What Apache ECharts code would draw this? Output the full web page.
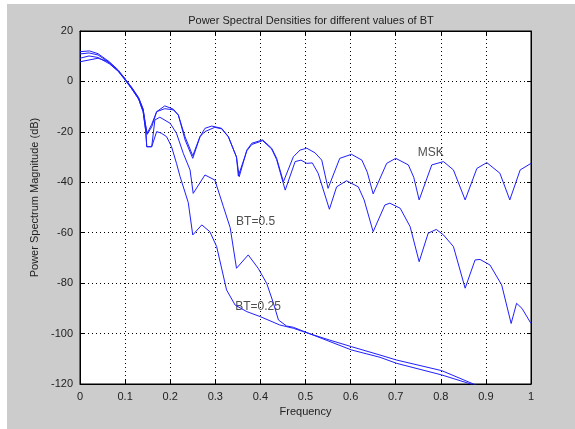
<!DOCTYPE html>
<html>
<head>
<meta charset="utf-8">
<script src="https://cdn.jsdelivr.net/npm/echarts@6/dist/echarts.min.js"></script>
<style>
html,body{margin:0;padding:0;background:#fff;}
#bg{position:absolute;left:7px;top:4px;width:568px;height:425px;background:#cccccc;}
#chart{position:absolute;left:0;top:0;width:575px;height:429px;}
</style>
</head>
<body>
<div id="bg"></div>
<div id="chart"></div>
<script>
// ---- data ----
const xTicks = [0,0.1,0.2,0.3,0.4,0.5,0.6,0.7,0.8,0.9,1];
const yTicks = [-120,-100,-80,-60,-40,-20,0,20];

const mskFreq = [0,0.02,0.04,0.06,0.07,0.085,0.1,0.115,0.13,0.14,0.145,0.149,0.159,0.17,0.188,0.207,0.218,0.233,0.25,0.266,0.277,0.299,0.314,0.329,0.347,0.353,0.37,0.381,0.405,0.425,0.436,0.451,0.473,0.488,0.503,0.521,0.536,0.55,0.576,0.602,0.625,0.637,0.65,0.68,0.70,0.728,0.74,0.752,0.78,0.806,0.828,0.854,0.88,0.902,0.931,0.953,0.976,1.0];
const mskPSD  = [7.8,8.5,9.2,8,6.5,4,1,-2.5,-6.5,-11,-17,-20.6,-17,-12,-10.8,-11.3,-13.3,-22,-29.5,-21.9,-19.9,-18.2,-18.8,-22,-30,-37.8,-27.2,-24.5,-23.2,-26.5,-30.5,-39.8,-29.9,-27.2,-26.5,-28.3,-31.2,-42.4,-30.5,-28.9,-31.2,-36,-44.6,-32.5,-30.5,-33.1,-38,-47,-33.1,-31.8,-35.1,-47,-34.5,-32.2,-36.4,-47,-35.1,-32.5];

const bt1Freq = [0,0.02,0.04,0.065,0.085,0.1,0.115,0.13,0.14,0.145,0.149,0.159,0.17,0.188,0.207,0.218,0.233,0.25,0.266,0.277,0.292,0.314,0.329,0.347,0.351,0.37,0.381,0.405,0.425,0.436,0.455,0.477,0.49,0.503,0.515,0.528,0.553,0.569,0.591,0.617,0.63,0.65,0.676,0.687,0.71,0.732,0.752,0.772,0.79,0.806,0.828,0.854,0.876,0.887,0.909,0.935,0.956,0.968,0.98,1.0];
const bt1PSD  = [9.2,10.1,9.5,7,4,1,-2.5,-6.5,-11,-17,-21,-18,-12,-9.7,-11,-13.3,-23.2,-30.5,-22,-18.6,-17.7,-18.6,-21.9,-30,-37.5,-27.5,-25,-23.5,-26.8,-31,-43.1,-31.8,-31.2,-32.5,-32.3,-36.4,-50.7,-41.8,-39.4,-41.8,-47,-59.6,-49,-48.3,-50.3,-57.6,-71.5,-60.2,-58.7,-60.9,-65.5,-82,-70.8,-70.6,-72.8,-80.7,-96,-88,-90,-96];

const bt05Freq = [0,0.02,0.04,0.065,0.085,0.1,0.115,0.13,0.14,0.146,0.148,0.159,0.166,0.177,0.2,0.214,0.229,0.244,0.251,0.277,0.299,0.318,0.333,0.347,0.373,0.395,0.414,0.429,0.44,0.458,0.473,0.517,0.602,0.665,0.702,0.802,0.87];
const bt05PSD  = [10.9,11.3,10.5,7.5,4,0.5,-3,-7,-12,-20,-25.9,-25.9,-15.3,-14.2,-16.6,-20.6,-28.5,-35.1,-44.4,-37.1,-39.1,-49.7,-58,-74.1,-68.8,-74.1,-80.1,-88,-94.6,-97,-97.5,-100.6,-106.5,-109.4,-111.8,-116.4,-120.2];

const bt025Freq = [0,0.021,0.04,0.065,0.085,0.1,0.115,0.13,0.14,0.146,0.148,0.159,0.17,0.18,0.192,0.203,0.214,0.222,0.24,0.25,0.27,0.288,0.303,0.325,0.344,0.37,0.4,0.443,0.473,0.503,0.554,0.602,0.665,0.702,0.802,0.883];
const bt025PSD  = [11.8,12.1,11,7.8,4.5,1,-3,-7,-12,-20,-25.9,-25.9,-19.9,-20.5,-21.9,-25.9,-32.5,-37.8,-48,-60.9,-56.9,-59.6,-65.5,-82.7,-88.7,-91.3,-93.3,-96.6,-97.9,-99.7,-102.6,-105.2,-108.5,-110.5,-114.7,-120.8];

const labelText = ['MSK','BT=0.5','BT=0.25'];
const labelFreq = [0.749,0.346,0.344];
const labelPSD  = [-28.4,-55.8,-89.5];

// ---- build chart ----
const zip = (xs, ys) => xs.map((x, i) => [x, ys[i]]);
const FONT = "'Liberation Sans', Arial, Helvetica, sans-serif";
const LINE = '#1f1fff';
const chart = echarts.init(document.getElementById('chart'), null, {renderer: 'canvas'});

function lineSeries(name, xs, ys) {
  return {
    name: name, type: 'line', data: zip(xs, ys), showSymbol: false, symbol: 'none',
    smooth: false, clip: true, xAxisIndex: 0, yAxisIndex: 0,
    lineStyle: {color: LINE, width: 1}, animation: false
  };
}

const xMin = xTicks[0], xMax = xTicks[xTicks.length - 1];
const yMin = yTicks[0], yMax = yTicks[yTicks.length - 1];

chart.setOption({
  backgroundColor: 'transparent',
  animation: false,
  title: {
    text: 'Power Spectral Densities for different values of BT',
    left: 306, top: 10, textAlign: 'center',
    textStyle: {fontFamily: FONT, fontSize: 11, fontWeight: 'normal', color: '#222'}
  },
  grid: {left: 80, right: 44, top: 31, bottom: 45, show: true, backgroundColor: '#ffffff', borderColor: '#000', borderWidth: 1},
  xAxis: [{
    type: 'value', min: xMin, max: xMax, interval: 0.1,
    name: 'Frequency', nameLocation: 'middle', nameGap: 22,
    nameTextStyle: {fontFamily: FONT, fontSize: 11, color: '#222'},
    axisLine: {show: true, onZero: false, lineStyle: {color: '#000', width: 1}},
    axisTick: {show: true, inside: true, length: 4, lineStyle: {color: '#000'}},
    axisLabel: {fontFamily: FONT, fontSize: 11, color: '#222', margin: 7,
      formatter: v => String(Math.round(v * 10) / 10)},
    splitLine: {show: true, lineStyle: {color: '#000', width: 1, type: [1, 3]}}
  }, {
    type: 'value', position: 'top', min: xMin, max: xMax, interval: 0.1,
    axisLine: {show: true, onZero: false, lineStyle: {color: '#000'}},
    axisTick: {show: true, inside: true, length: 4, lineStyle: {color: '#000'}},
    axisLabel: {show: false}, splitLine: {show: false}
  }],
  yAxis: [{
    type: 'value', min: yMin, max: yMax, interval: 20,
    name: 'Power Spectrum Magnitude (dB)', nameLocation: 'middle', nameGap: 39,
    nameTextStyle: {fontFamily: FONT, fontSize: 11, color: '#222', padding: [0, 0, 0, 20]},
    axisLine: {show: true, onZero: false, lineStyle: {color: '#000', width: 1}},
    axisTick: {show: true, inside: true, length: 4, lineStyle: {color: '#000'}},
    axisLabel: {fontFamily: FONT, fontSize: 11, color: '#222', margin: 7},
    splitLine: {show: true, lineStyle: {color: '#000', width: 1, type: [1, 3]}}
  }, {
    type: 'value', position: 'right', min: yMin, max: yMax, interval: 20,
    axisLine: {show: true, onZero: false, lineStyle: {color: '#000'}},
    axisTick: {show: true, inside: true, length: 4, lineStyle: {color: '#000'}},
    axisLabel: {show: false}, splitLine: {show: false}
  }],
  series: [
    lineSeries('MSK', mskFreq, mskPSD),
    lineSeries('BT1', bt1Freq, bt1PSD),
    lineSeries('BT=0.5', bt05Freq, bt05PSD),
    lineSeries('BT=0.25', bt025Freq, bt025PSD),
    {
      type: 'scatter', symbolSize: 0, silent: true, animation: false,
      data: labelText.map((t, i) => ({name: t, value: [labelFreq[i], labelPSD[i]]})),
      label: {show: true, position: 'right', distance: 0, formatter: p => p.name,
        fontFamily: FONT, fontSize: 12, color: '#222'}
    }
  ]
});
</script>
</body>
</html>
